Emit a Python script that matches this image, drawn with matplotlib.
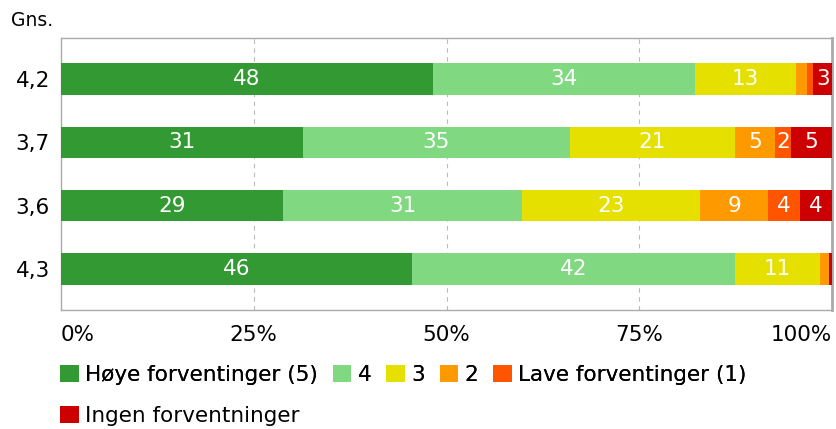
import matplotlib
matplotlib.use("Agg")
import matplotlib.pyplot as plt
from matplotlib.patches import Patch
import numpy as np

plt.rcParams['font.family'] = ['DejaVu Sans']

rows = ["4,2", "3,7", "3,6", "4,3"]
series = ["Høye forventinger (5)", "4", "3", "2", "Lave forventinger (1)", "Ingen forventninger"]
colors = ["#339933", "#80d880", "#e5e000", "#ff9900", "#ff5500", "#cc0000"]
values = [
    [48.2, 34.0, 13.1, 1.4, 0.8, 2.6],
    [31.4, 34.6, 21.4, 5.2, 2.1, 5.3],
    [28.8, 31.0, 23.1, 8.8, 4.1, 4.2],
    [45.5, 41.9, 11.0, 1.2, 0.0, 0.4],
]
xticks = [0, 25, 50, 75, 100]
xticklabels = ["0%", "25%", "50%", "75%", "100%"]

FS = 15.5
fig = plt.figure(figsize=(8.36, 4.29), dpi=100)
ax = fig.add_axes([61/836, 1-310/429, 771/836, 272/429])

vals = np.array(values)
y = np.arange(len(rows))
left = np.zeros(len(rows))
for j, (name, col) in enumerate(zip(series, colors)):
    w = vals[:, j]
    ax.barh(y, w, left=left, height=0.5, color=col, edgecolor='none', zorder=3)
    for i in range(len(rows)):
        if w[i] >= 2:
            ax.text(left[i] + w[i] / 2, y[i], f"{int(w[i] + 0.5)}", ha='center', va='center',
                    color='white', fontsize=FS, zorder=4)
    left += w

ax.set_xlim(0, 100)
ax.set_ylim(len(rows) - 0.35, -0.65)
ax.set_yticks(y)
ax.set_yticklabels(rows, fontsize=FS)
ax.set_xticks(xticks)
ax.set_xticklabels(xticklabels, fontsize=FS)
labs = ax.get_xticklabels()
labs[0].set_horizontalalignment('left')
labs[-1].set_horizontalalignment('right')
ax.tick_params(length=0)
ax.tick_params(axis='x', pad=11)
ax.tick_params(axis='y', pad=8)
for s in ax.spines.values():
    s.set_color('#aaaaaa')
    s.set_linewidth(1)
ax.spines['right'].set_linewidth(2)
for xv in [25, 50, 75]:
    ax.axvline(xv, color='#bbbbbb', linestyle=(0, (4, 4)), linewidth=0.8, zorder=1)

fig.text(11/836, 1-20/429, "Gns.", fontsize=13.5, va='center', ha='left')

handles = [Patch(facecolor=c, edgecolor='none') for c in colors]
leg1 = fig.legend(handles[:5], series[:5], loc='center left', bbox_to_anchor=(60/836, 1-375/429),
                  ncol=5, frameon=False, fontsize=FS, handlelength=0.87, handleheight=0.87,
                  handletextpad=0.3, columnspacing=0.68, borderaxespad=0, borderpad=0)
fig.add_artist(leg1)
fig.legend(handles[5:], series[5:], loc='center left', bbox_to_anchor=(60/836, 1-416/429),
           ncol=1, frameon=False, fontsize=FS, handlelength=0.87, handleheight=0.87,
           handletextpad=0.3, borderaxespad=0, borderpad=0)

fig.savefig("out.png", dpi=100)
